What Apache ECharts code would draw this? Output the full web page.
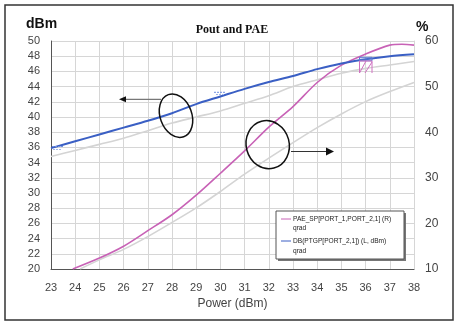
<!DOCTYPE html>
<html>
<head>
<meta charset="utf-8">
<script src="https://cdn.jsdelivr.net/npm/echarts@6/dist/echarts.min.js"></script>
<style>
html,body{margin:0;padding:0;background:#fff;}
#c{width:459px;height:322px;}
</style>
</head>
<body>
<div id="c"></div>
<script>
// ---- data ----
const powerX = [23,24,25,26,27,28,29,30,31,32,33,34,35,36,37,38];
const poutDbm = [35.9,36.8,37.7,38.6,39.5,40.5,41.7,42.7,43.7,44.6,45.4,46.3,47.05,47.6,48.0,48.25];
const poutRefDbm = [34.8,35.6,36.4,37.2,38.2,39.2,40.0,40.8,41.8,42.8,44.0,44.9,45.75,46.4,46.85,47.3];
const paeX = [23.9,25,26,27,28,29,30,31,32,33,34,35,36,37,37.5,38];
const paePct = [10,12.4,15.0,18.4,21.9,26.2,31.0,35.9,41.1,45.6,50.9,54.7,57.15,59.1,59.3,59.1];
const paeRefX = [24.2,25,26,27,28,29,30,31,32,33,34,35,36,37,38];
const paeRefPct = [10,12.0,14.3,17.1,20.2,23.4,27.0,30.8,34.3,37.7,41.0,44.0,46.7,48.9,50.9];
const leftTicks = {min:20, max:50, step:2};
const rightTicks = {min:10, max:60, step:10};
const xTicks = {min:23, max:38, step:1};
const legendNames = ['PAE_SP[PORT_1,PORT_2,1] (R)', 'DB(PTGP[PORT_2,1]) (L, dBm)'];
const legendSub = 'qrad';

const pairs = (xs, ys) => xs.map((x, i) => [x, ys[i]]);

const FONT = 'Liberation Sans, Arial, sans-serif';
const chart = echarts.init(document.getElementById('c'));

const option = {
  animation: false,
  backgroundColor: '#fff',
  grid: {left: 51, top: 41, right: 45, bottom: 53, containLabel: false},
  xAxis: {
    type: 'value', min: xTicks.min, max: xTicks.max, interval: xTicks.step,
    name: 'Power (dBm)', nameLocation: 'middle', nameGap: 28,
    nameTextStyle: {fontFamily: FONT, fontSize: 12, color: '#444'},
    axisLine: {show: true, lineStyle: {color: '#555', width: 1}},
    axisTick: {show: false},
    axisLabel: {fontFamily: FONT, fontSize: 11, color: '#444', margin: 13},
    splitLine: {show: true, lineStyle: {color: '#d6d6d6', width: 1}}
  },
  yAxis: [{
    type: 'value', min: leftTicks.min, max: leftTicks.max, interval: leftTicks.step,
    axisLine: {show: true, lineStyle: {color: '#555', width: 1}},
    axisTick: {show: false},
    axisLabel: {fontFamily: FONT, fontSize: 11, color: '#444', margin: 11},
    splitLine: {show: true, lineStyle: {color: '#d6d6d6', width: 1}}
  }, {
    type: 'value', min: rightTicks.min, max: rightTicks.max, interval: rightTicks.step,
    position: 'right',
    axisLine: {show: true, lineStyle: {color: '#d6d6d6', width: 1}},
    axisTick: {show: false},
    axisLabel: {fontFamily: FONT, fontSize: 12, color: '#444', margin: 11},
    splitLine: {show: false}
  }],
  series: [
    {name: 'poutRef', type: 'line', yAxisIndex: 0, data: pairs(powerX, poutRefDbm), smooth: 0.3,
     symbol: 'none', lineStyle: {color: '#d4d4d4', width: 1.6}, z: 2},
    {name: 'paeRef', type: 'line', yAxisIndex: 1, data: pairs(paeRefX, paeRefPct), smooth: 0.3,
     symbol: 'none', lineStyle: {color: '#d4d4d4', width: 1.6}, z: 2},
    {name: legendNames[0], type: 'line', yAxisIndex: 1, data: pairs(paeX, paePct), smooth: 0.3,
     symbol: 'none', lineStyle: {color: '#c862b6', width: 1.6}, z: 3},
    {name: legendNames[1], type: 'line', yAxisIndex: 0, data: pairs(powerX, poutDbm), smooth: 0.3,
     symbol: 'none', lineStyle: {color: '#3a5fc4', width: 2}, z: 4}
  ],
  graphic: [
    {type: 'rect', shape: {x: 5, y: 5, width: 448, height: 315}, style: {fill: 'none', stroke: '#333', lineWidth: 1.5}, silent: true},
    {type: 'text', style: {text: 'dBm', x: 26, y: 24, font: 'bold 14px ' + FONT, fill: '#111', verticalAlign: 'middle'}},
    {type: 'text', style: {text: '%', x: 416, y: 27, font: 'bold 14px ' + FONT, fill: '#111', verticalAlign: 'middle'}},
    {type: 'text', style: {text: 'Pout and PAE', x: 232, y: 30, font: 'bold 12px Liberation Serif, Times New Roman, serif', fill: '#111', align: 'center', verticalAlign: 'middle'}},
    // annotation ellipses and arrows
    {type: 'ellipse', x: 176, y: 115.7, rotation: 0.35, shape: {cx: 0, cy: 0, rx: 15.8, ry: 22.4}, style: {fill: 'none', stroke: '#111', lineWidth: 1.5}, z: 10},
    {type: 'line', shape: {x1: 161, y1: 99.3, x2: 124, y2: 99.3}, style: {stroke: '#777', lineWidth: 1.2}, z: 10},
    {type: 'polygon', shape: {points: [[119, 99.3], [126, 96.3], [126, 102.3]]}, style: {fill: '#111'}, z: 10},
    {type: 'ellipse', x: 267.7, y: 144.7, rotation: 0.26, shape: {cx: 0, cy: 0, rx: 21.5, ry: 24.2}, style: {fill: 'none', stroke: '#111', lineWidth: 1.5}, z: 10},
    {type: 'line', shape: {x1: 291, y1: 151.5, x2: 327, y2: 151.5}, style: {stroke: '#333', lineWidth: 1.2}, z: 10},
    {type: 'polygon', shape: {points: [[334, 151.5], [326, 147.5], [326, 155.5]]}, style: {fill: '#111'}, z: 10},
    // small marker glyphs
    {type: 'line', shape: {x1: 52, y1: 146.5, x2: 63, y2: 146.5}, style: {stroke: '#7090e0', lineWidth: 1, lineDash: [2, 1]}, z: 10},
    {type: 'line', shape: {x1: 53, y1: 149.5, x2: 62, y2: 149.5}, style: {stroke: '#a0b4e8', lineWidth: 1, lineDash: [2, 1]}, z: 10},
    {type: 'line', shape: {x1: 214, y1: 92.3, x2: 226, y2: 92.3}, style: {stroke: '#7090e0', lineWidth: 1, lineDash: [2, 1]}, z: 10},
    {type: 'line', shape: {x1: 216, y1: 94.5, x2: 224, y2: 94.5}, style: {stroke: '#a0b4e8', lineWidth: 1, lineDash: [2, 1]}, z: 10},
    {type: 'rect', shape: {x: 359.5, y: 57.3, width: 12.5, height: 3.5}, style: {fill: 'rgba(120,150,220,0.3)', stroke: '#5a7ad0', lineWidth: 1}, z: 10},
    {type: 'polyline', shape: {points: [[359.5, 73], [359.5, 61], [372, 61], [372, 73]]}, style: {fill: 'none', stroke: '#d070c0', lineWidth: 1}, z: 10},
    {type: 'line', shape: {x1: 359.5, y1: 73, x2: 366, y2: 61}, style: {stroke: '#d070c0', lineWidth: 1}, z: 10},
    {type: 'line', shape: {x1: 365, y1: 73, x2: 372, y2: 62}, style: {stroke: '#d070c0', lineWidth: 1}, z: 10},
    // legend box
    {type: 'rect', shape: {x: 278, y: 213, width: 128, height: 48}, style: {fill: '#777'}, z: 20},
    {type: 'rect', shape: {x: 276, y: 211, width: 128, height: 48}, style: {fill: '#fff', stroke: '#555', lineWidth: 1}, z: 21},
    {type: 'line', shape: {x1: 281, y1: 219, x2: 291, y2: 219}, style: {stroke: '#c862b6', lineWidth: 1}, z: 22},
    {type: 'text', style: {text: legendNames[0], x: 293, y: 219, font: '6.6px ' + FONT, fill: '#222', verticalAlign: 'middle'}, z: 22},
    {type: 'text', style: {text: legendSub, x: 293, y: 228, font: '6.6px ' + FONT, fill: '#222', verticalAlign: 'middle'}, z: 22},
    {type: 'line', shape: {x1: 281, y1: 241, x2: 291, y2: 241}, style: {stroke: '#3a5fc4', lineWidth: 1}, z: 22},
    {type: 'text', style: {text: legendNames[1], x: 293, y: 241, font: '6.6px ' + FONT, fill: '#222', verticalAlign: 'middle'}, z: 22},
    {type: 'text', style: {text: legendSub, x: 293, y: 251, font: '6.6px ' + FONT, fill: '#222', verticalAlign: 'middle'}, z: 22}
  ]
};
chart.setOption(option);
</script>
</body>
</html>
